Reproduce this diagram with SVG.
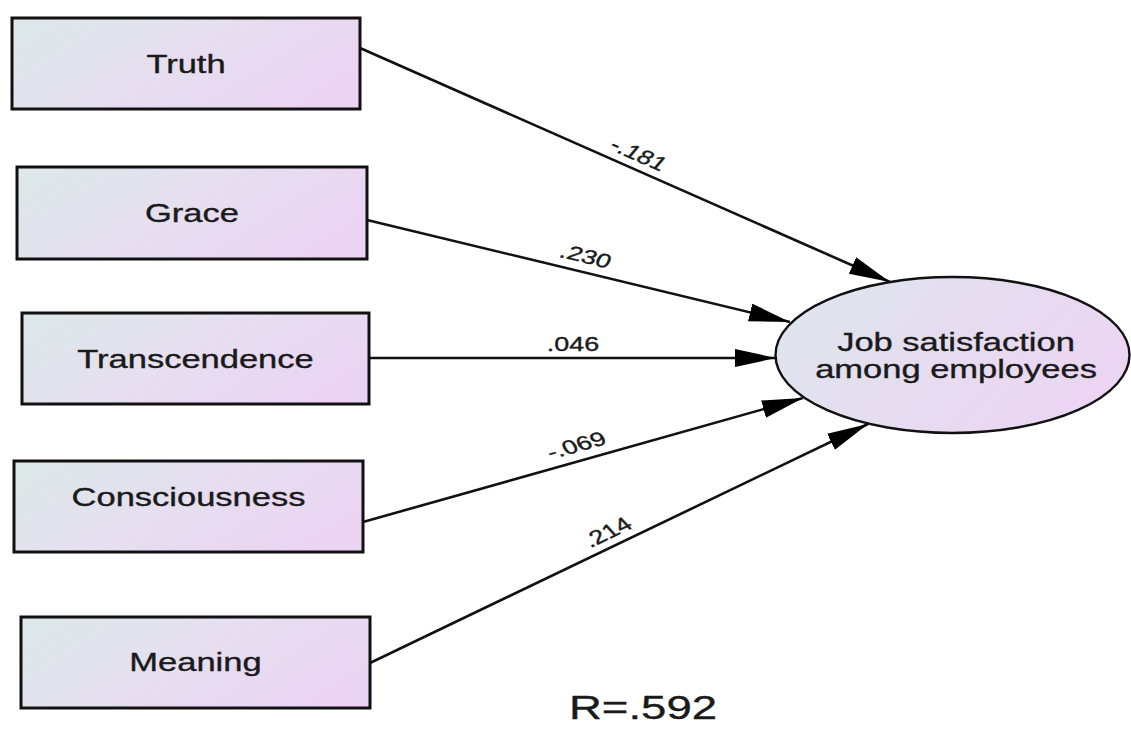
<svg xmlns="http://www.w3.org/2000/svg" width="1131" height="747" viewBox="0 0 1131 747">
<style>
.box{stroke:#111;stroke-width:3;fill:url(#gb)}
.ell{stroke:#111;stroke-width:2.4;fill:url(#ge)}
.t{font-family:"Liberation Sans",Arial,sans-serif;fill:#1a1a1a;text-anchor:middle;stroke:#1a1a1a;stroke-width:0.35}
.nt{font-size:25px}
.lb{font-size:19.5px}
.con{stroke:#111;stroke-width:2.6;fill:none;marker-end:url(#ah)}
</style>
<defs>
<linearGradient id="gb" x1="0" y1="0.3" x2="1" y2="0.7">
<stop offset="0" stop-color="#dee7ea"/>
<stop offset="0.45" stop-color="#e6dff0"/>
<stop offset="1" stop-color="#ebd3f3"/>
</linearGradient>
<linearGradient id="ge" x1="0" y1="0.3" x2="1" y2="0.7">
<stop offset="0" stop-color="#dfe5ed"/>
<stop offset="0.5" stop-color="#e6dcf0"/>
<stop offset="1" stop-color="#edd4f3"/>
</linearGradient>
<marker id="ah" markerUnits="userSpaceOnUse" markerWidth="44" markerHeight="20" refX="41" refY="9" orient="auto">
<path d="M0,0 L41,9 L0,18 Z" fill="#000"/>
</marker>
</defs>
<rect width="1131" height="747" fill="#fff"/>
<g id="connectors">
<line class="con" x1="360" y1="48" x2="890" y2="282"/>
<line class="con" x1="367" y1="220" x2="790" y2="322"/>
<line class="con" x1="369" y1="358" x2="776" y2="358"/>
<line class="con" x1="363" y1="522" x2="803" y2="398"/>
<line class="con" x1="370" y1="663" x2="868" y2="424"/>
<text class="t lb" transform="translate(639,154) scale(1.38,1) rotate(31.3)" dy="7">-.181</text>
<text class="t lb" transform="translate(586,256) scale(1.38,1) rotate(18.4)" dy="7">.230</text>
<text class="t lb" transform="translate(573,344) scale(1.38,1)" dy="7">.046</text>
<text class="t lb" transform="translate(576,445) scale(1.38,1) rotate(-21.3)" dy="7">-.069</text>
<text class="t lb" transform="translate(607,532) scale(1.38,1) rotate(-33.5)" dy="7">.214</text>
</g>
<g id="truth">
<rect class="box" x="12" y="18" width="348" height="91"/>
<text class="t nt" transform="translate(186,73) scale(1.38,1)">Truth</text>
</g>
<g id="grace">
<rect class="box" x="17" y="167" width="350" height="92"/>
<text class="t nt" transform="translate(192,222) scale(1.38,1)">Grace</text>
</g>
<g id="transcendence">
<rect class="box" x="22" y="313" width="347" height="91"/>
<text class="t nt" transform="translate(195.5,368) scale(1.38,1)">Transcendence</text>
</g>
<g id="consciousness">
<rect class="box" x="14" y="461" width="349" height="91"/>
<text class="t nt" transform="translate(188.5,506) scale(1.38,1)">Consciousness</text>
</g>
<g id="meaning">
<rect class="box" x="21" y="617" width="349" height="91"/>
<text class="t nt" transform="translate(195.5,671) scale(1.38,1)">Meaning</text>
</g>
<g id="job-satisfaction">
<ellipse class="ell" cx="952.5" cy="355" rx="177" ry="78"/>
<text class="t nt" transform="translate(956,351) scale(1.38,1)">Job satisfaction</text>
<text class="t nt" transform="translate(956,378) scale(1.38,1)">among employees</text>
</g>
<g id="r-value">
<text class="t" style="font-size:33px" transform="translate(643,719) scale(1.38,1)">R=.592</text>
</g>
</svg>
